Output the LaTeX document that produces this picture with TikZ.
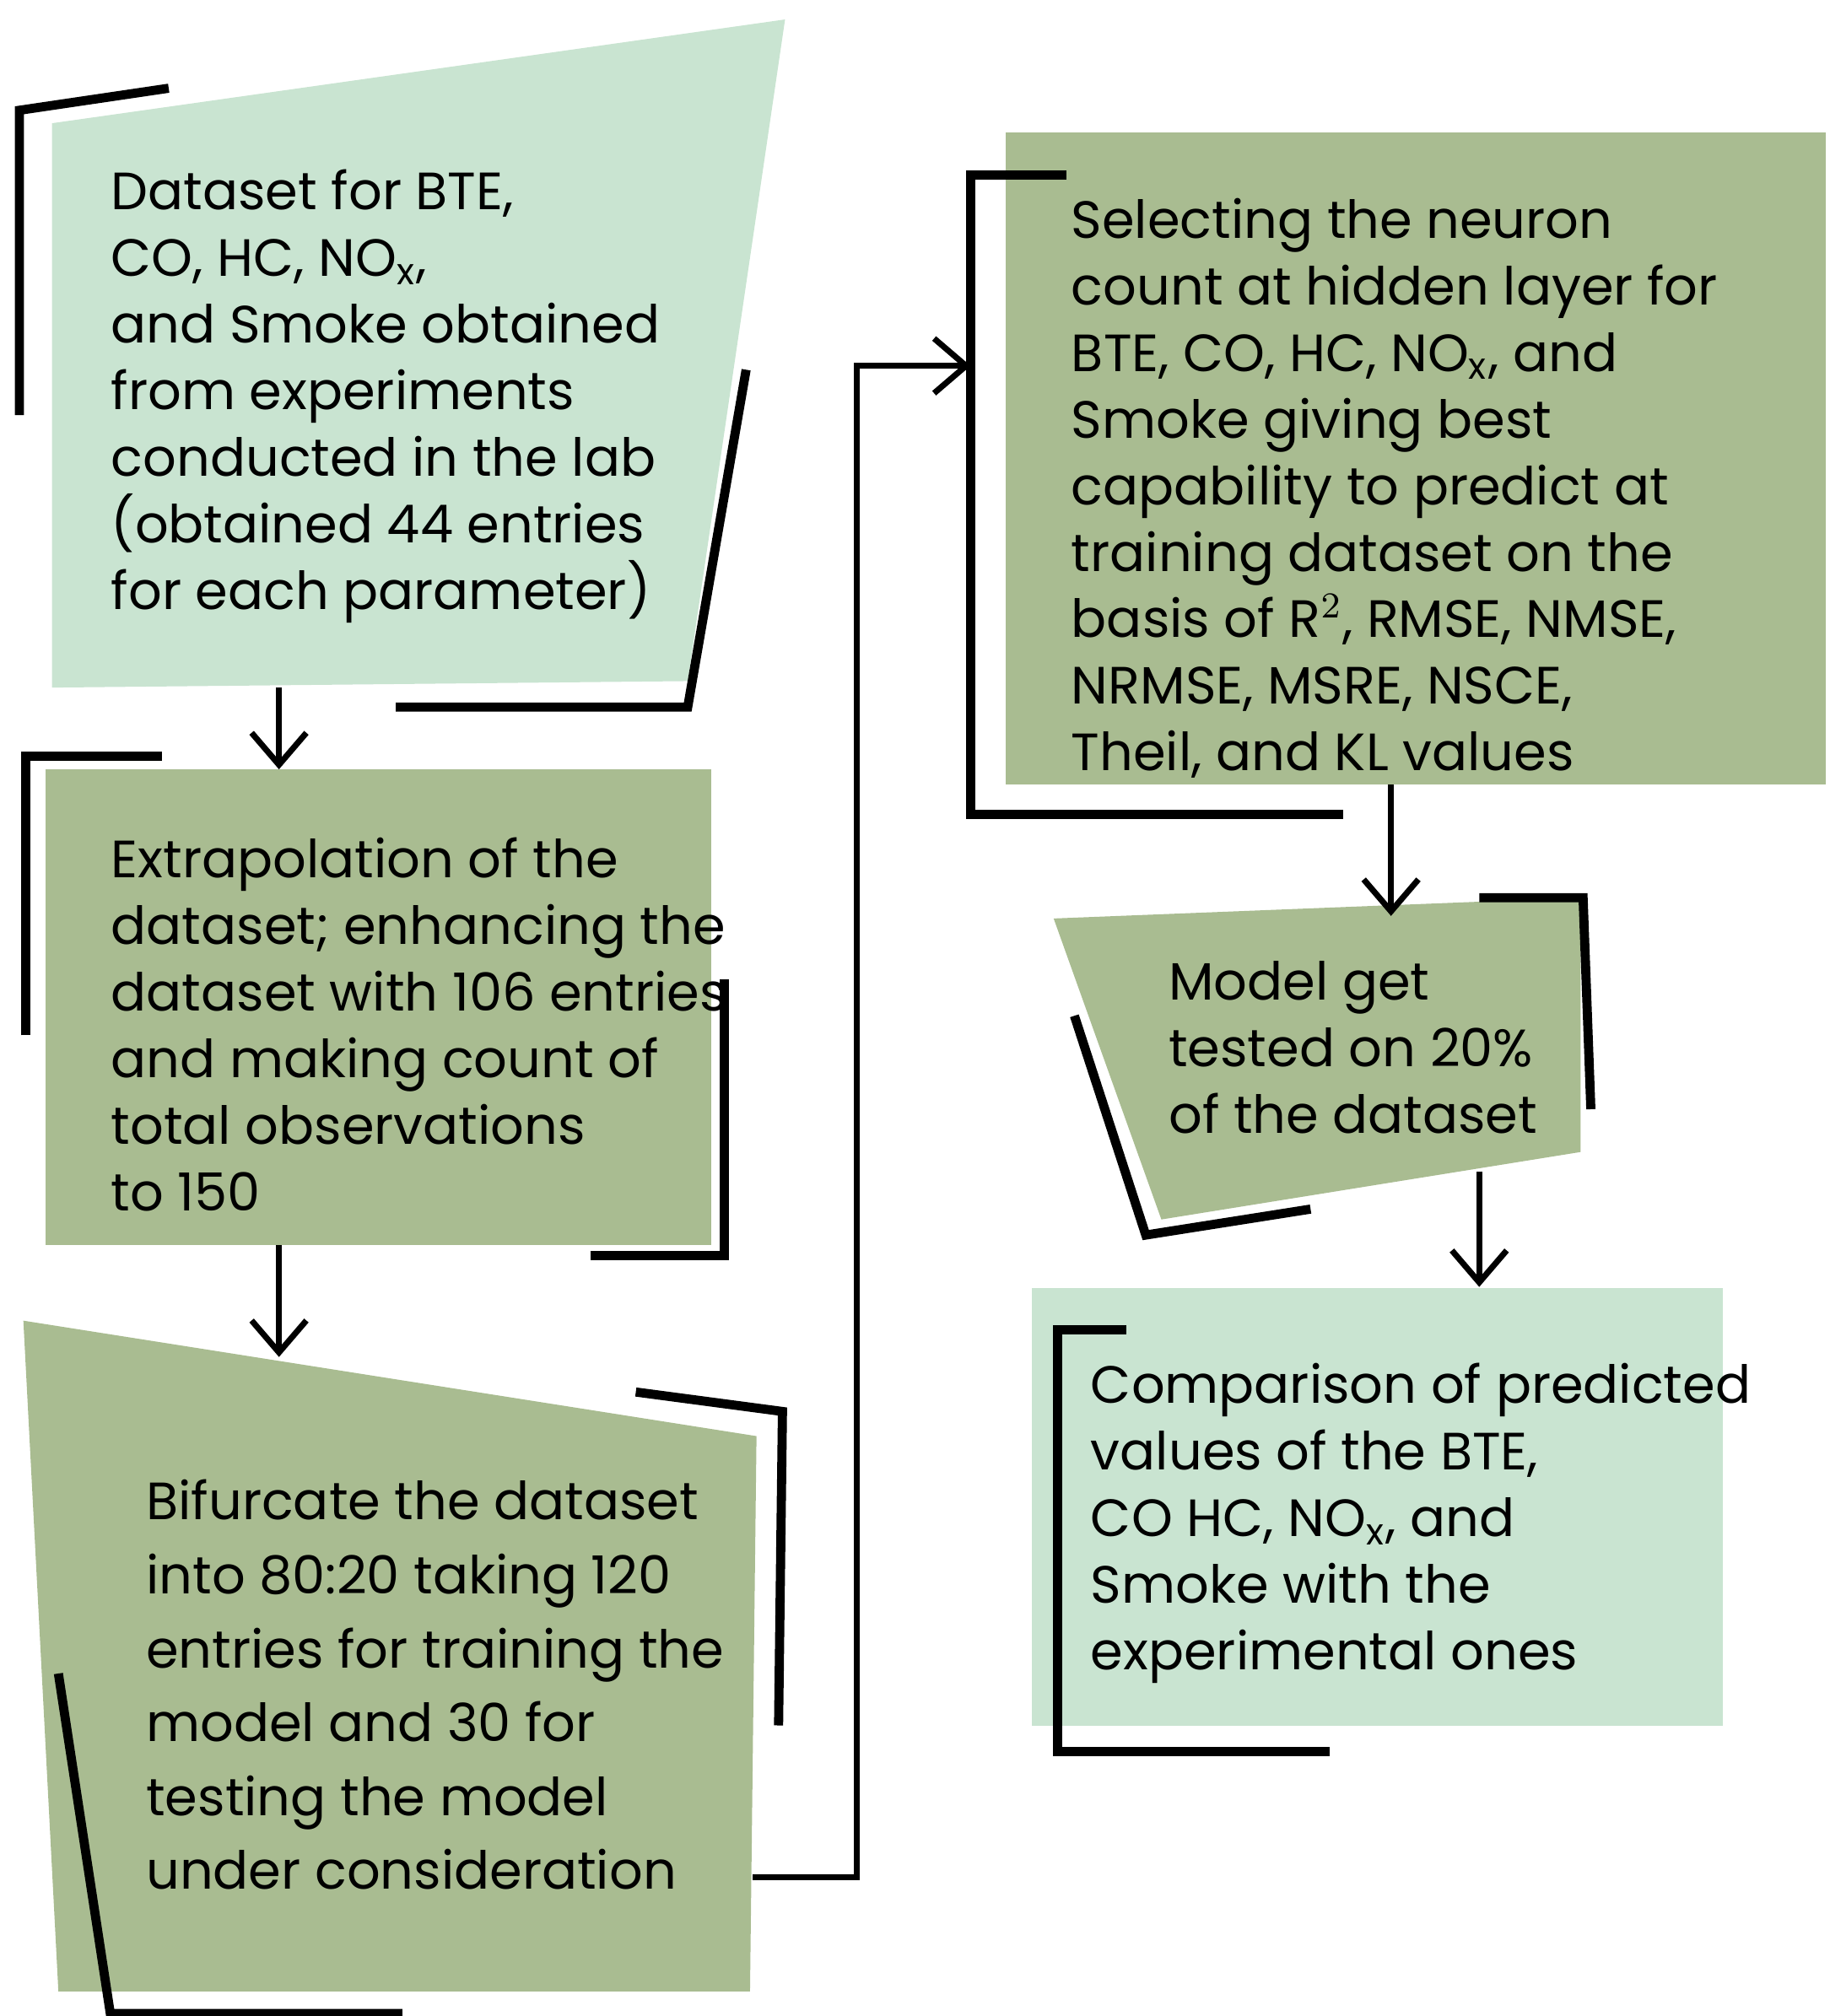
\documentclass[tikz,border=0pt]{standalone}
\usepackage{fontspec}
\setmainfont{Poppins}
\usetikzlibrary{arrows.meta}
\definecolor{lg}{RGB}{201,228,209}
\definecolor{dg}{RGB}{169,188,145}
\begin{document}
\begin{tikzpicture}[x=0.01cm,y=-0.01cm,
 br/.style={line width=2pt,black},
 ar/.style={line width=1.3pt,-{Straight Barb[length=7pt,width=12pt,line width=1.3pt]}},
 txt/.style={anchor=north west,align=left,inner sep=0pt,font=\fontsize{11.5}{14.6}\selectfont}]
\useasboundingbox (0,0) rectangle (1410,1554);
% box1
\fill[lg] (40,95) -- (605,15) -- (530,525) -- (40,530) -- cycle;
\draw[br] (15,320) -- (15,85) -- (130,68);
\draw[br] (575,285) -- (530,545) -- (305,545);
\node[txt] (t1) at (85,130) {Dataset for BTE,\\CO, HC, NO\textsubscript{x},\\and Smoke obtained\\from experiments\\conducted in the lab\\(obtained 44 entries\\for each parameter)};
% box2
\fill[dg] (35,593) rectangle (548,960);
\draw[br] (20,798) -- (20,583) -- (125,583);
\draw[br] (455,968) -- (558,968) -- (558,755);
\node[txt] (t2) at (85,645) {Extrapolation of the\\dataset; enhancing the\\dataset with 106 entries\\and making count of\\total observations\\to 150};
% box3
\fill[dg] (18,1018) -- (583,1107) -- (578,1535) -- (45,1535) -- cycle;
\draw[br] (490,1073) -- (603,1088) -- (600,1330);
\draw[br] (45,1290) -- (85,1552) -- (310,1552);
\node[txt,font=\fontsize{11.5}{16.2}\selectfont] (t3) at (112,1140) {Bifurcate the dataset\\into 80:20 taking 120\\entries for training the\\model and 30 for\\testing the model\\under consideration};
% box4
\fill[dg] (775,102) rectangle (1407,605);
\draw[br] (822,135) -- (748,135) -- (748,628) -- (1035,628);
\node[txt] (t4) at (825,152) {Selecting the neuron\\count at hidden layer for\\BTE, CO, HC, NO\textsubscript{x}, and\\Smoke giving best\\capability to predict at\\training dataset on the\\basis of R$^2$, RMSE, NMSE,\\NRMSE, MSRE, NSCE,\\Theil, and KL values};
% box5
\fill[dg] (812,708) -- (1218,692) -- (1218,888) -- (895,940) -- cycle;
\draw[br] (1140,692) -- (1220,692) -- (1226,855);
\draw[br] (828,783) -- (883,952) -- (1010,932);
\node[txt] (t5) at (900,740) {Model get\\tested on 20\%\\of the dataset};
% box6
\fill[lg] (795,993) rectangle (1328,1330);
\draw[br] (868,1025) -- (815,1025) -- (815,1350) -- (1025,1350);
\node[txt] (t6) at (840,1050) {Comparison of predicted\\values of the BTE,\\CO HC, NO\textsubscript{x}, and\\Smoke with the\\experimental ones};
% connectors
\coordinate (a1) at (215,530); \coordinate (a2) at (215,593);
\coordinate (b1) at (215,960); \coordinate (b2) at (215,1046);
\coordinate (c1) at (580,1447); \coordinate (c2) at (748,282);
\coordinate (d1) at (1072,605); \coordinate (d2) at (1072,706);
\coordinate (e1) at (1140,903); \coordinate (e2) at (1140,992);
\draw[ar] (a1) -- (a2);
\draw[ar] (b1) -- (b2);
\draw[ar] (c1) -- (660,1447) -- (660,282) -- (c2);
\draw[ar] (d1) -- (d2);
\draw[ar] (e1) -- (e2);
\end{tikzpicture}
\end{document}
